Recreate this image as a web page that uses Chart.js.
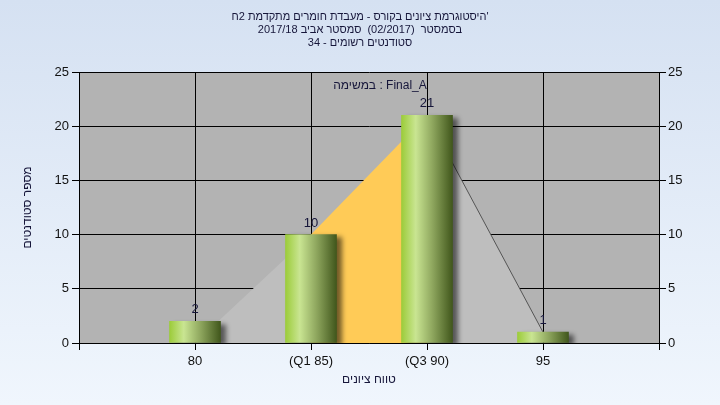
<!DOCTYPE html>
<html>
<head>
<meta charset="utf-8">
<script src="https://cdn.jsdelivr.net/npm/chart.js@4.4.1/dist/chart.umd.min.js"></script>
<style>
  body { margin: 0; }
  #wrap {
    width: 720px; height: 405px;
    background: linear-gradient(to bottom, #d5e1f2, #f0f6fd);
  }
</style>
</head>
<body>
<div id="wrap"><canvas id="chart" width="720" height="405"></canvas></div>
<script>
// grade ranges on the x axis, placed at slots 1..4 of a 0..5 axis
const categories = ['80', '(Q1 85)', '(Q3 90)', '95'];
const slots = [1, 2, 3, 4];
const students = [2, 10, 21, 1];
// outline of the shaded area behind the bars
const areaValues = [0, 10, 21, 1];
const titleLines = [
  "היסטוגרמת ציונים בקורס - מעבדת חומרים מתקדמת 2ח'",
  'בסמסטר  (02/2017)  סמסטר אביב 2017/18',
  'סטודנטים רשומים - 34'
];
const seriesLabel = 'במשימה : Final_A';

const FONT = "'Liberation Sans', Arial, sans-serif";
const TEXT = '#16163a';

function barGradient(ctx) {
  const chart = ctx.chart;
  const xs = chart.scales.x;
  if (!xs || ctx.type !== 'data' || !ctx.raw) return '#9ccc3c';
  const cx = xs.getPixelForValue(ctx.raw.x);
  if (!isFinite(cx)) return '#9ccc3c';
  const g = chart.ctx.createLinearGradient(cx - 25.5, 0, cx + 25.5, 0);
  g.addColorStop(0, '#9ccc3a');
  g.addColorStop(0.28, '#c9e592');
  g.addColorStop(0.62, '#8ca45c');
  g.addColorStop(1, '#41571c');
  return g;
}

// gray plot background
const plotBg = {
  id: 'plotBg',
  beforeDraw(chart) {
    const { ctx, chartArea: a } = chart;
    ctx.save();
    ctx.fillStyle = '#b3b3b3';
    ctx.fillRect(a.left, a.top, a.right - a.left, a.bottom - a.top);
    ctx.restore();
  }
};

// soft shadow behind the bars
const barShadow = {
  id: 'barShadow',
  beforeDatasetDraw(chart, args) {
    if (args.meta.type !== 'bar') return;
    const c = chart.ctx;
    c.save();
    c.shadowColor = 'rgba(0,0,0,0.55)';
    c.shadowBlur = 5;
    c.shadowOffsetX = 5;
    c.shadowOffsetY = 3;
  },
  afterDatasetDraw(chart, args) {
    if (args.meta.type !== 'bar') return;
    chart.ctx.restore();
  }
};

// value labels above bars + series caption inside the plot
const labels = {
  id: 'labels',
  afterDatasetsDraw(chart) {
    const c = chart.ctx;
    const meta = chart.getDatasetMeta(1);
    c.save();
    c.font = '13px ' + FONT;
    c.fillStyle = TEXT;
    c.textAlign = 'center';
    c.textBaseline = 'bottom';
    meta.data.forEach((el, i) => {
      c.fillText(String(students[i]), el.x, el.y - 5);
    });
    c.font = '12px ' + FONT;
    c.textBaseline = 'middle';
    c.fillText(seriesLabel, 380, 86);
    c.restore();
  }
};

new Chart(document.getElementById('chart'), {
  type: 'bar',
  data: {
    datasets: [
      {
        type: 'line',
        order: 2,
        data: slots.map((x, i) => ({ x, y: areaValues[i] })),
        fill: 'origin',
        backgroundColor: '#bebebe',
        borderWidth: 1,
        borderColor: 'rgba(0,0,0,0)',
        pointRadius: 0,
        tension: 0,
        segment: {
          backgroundColor: s => s.p0DataIndex === 1 ? '#ffcb57' : undefined,
          borderColor: s => s.p0DataIndex === 2 ? '#555555' : undefined
        }
      },
      {
        type: 'bar',
        order: 1,
        data: slots.map((x, i) => ({ x, y: students[i] })),
        barThickness: 51,
        backgroundColor: barGradient,
        borderWidth: 0
      }
    ]
  },
  options: {
    responsive: false,
    animation: false,
    layout: { padding: 0 },
    plugins: {
      legend: { display: false },
      tooltip: { enabled: false },
      title: {
        display: true,
        text: titleLines,
        color: TEXT,
        font: { family: FONT, size: 11, weight: 'normal', lineHeight: '13px' },
        padding: { top: 10, bottom: 23 }
      }
    },
    scales: {
      x: {
        type: 'linear',
        min: 0,
        max: 5,
        offset: false,
        afterBuildTicks: s => { s.ticks = [0, 1, 2, 3, 4, 5].map(v => ({ value: v })); },
        afterFit: s => { s.height = 62; },
        ticks: {
          callback: v => { const i = slots.indexOf(v); return i < 0 ? '' : categories[i]; },
          color: '#111',
          font: { family: FONT, size: 13 },
          padding: 4,
          maxRotation: 0
        },
        grid: { offset: false, color: '#000', lineWidth: 1, tickLength: 7 },
        border: { color: '#000', width: 1 },
        title: {
          display: true,
          text: 'טווח ציונים',
          color: TEXT,
          font: { family: FONT, size: 12 },
          padding: { top: 0, bottom: 18 }
        }
      },
      y: {
        position: 'left',
        min: 0,
        max: 25,
        afterFit: s => { s.width = 79; },
        ticks: { stepSize: 5, color: '#111', font: { family: FONT, size: 13 }, padding: 3 },
        grid: { color: '#000', lineWidth: 1, tickLength: 7 },
        border: { color: '#000', width: 1 },
        title: {
          display: true,
          text: 'מספר סטודנטים',
          color: TEXT,
          font: { family: FONT, size: 12 },
          padding: { top: 20, bottom: 0 }
        }
      },
      y2: {
        position: 'right',
        min: 0,
        max: 25,
        afterFit: s => { s.width = 61; },
        ticks: { stepSize: 5, color: '#111', font: { family: FONT, size: 13 }, padding: 2 },
        grid: { drawOnChartArea: false, color: '#000', tickLength: 7 },
        border: { color: '#000', width: 1 }
      }
    }
  },
  plugins: [plotBg, barShadow, labels]
});
</script>
</body>
</html>
